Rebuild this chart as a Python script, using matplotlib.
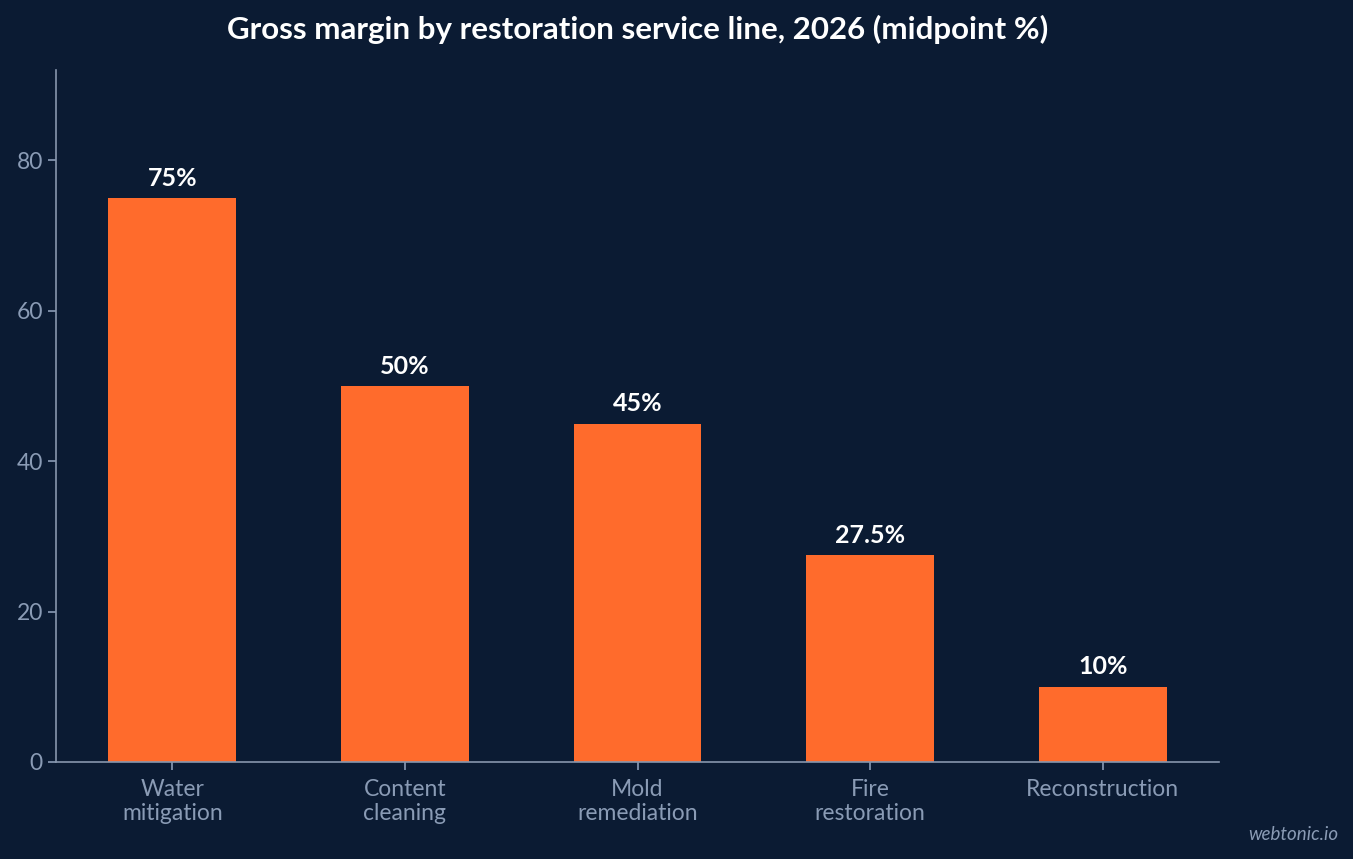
import matplotlib.pyplot as plt
import numpy as np

plt.rcParams["font.family"] = ["Lato", "DejaVu Sans"]

categories = ["Water\nmitigation", "Content\ncleaning", "Mold\nremediation", "Fire\nrestoration", "Reconstruction"]
margins = [75, 50, 45, 27.5, 10]
value_labels = ["75%", "50%", "45%", "27.5%", "10%"]

BG = "#0b1b33"
BAR = "#ff6b2c"
MUTED = "#8a9bb5"
SPINE = "#8796ad"

fig = plt.figure(figsize=(13.53, 8.59), dpi=100, facecolor=BG)
ax = fig.add_axes([56 / 1353, 1 - 762 / 859, (1219 - 56) / 1353, (762 - 70) / 859])
ax.set_facecolor(BG)

x = np.arange(len(categories))
bars = ax.bar(x, margins, width=0.55, color=BAR, zorder=2)

for bar, label in zip(bars, value_labels):
    ax.annotate(
        label,
        (bar.get_x() + bar.get_width() / 2, bar.get_height()),
        xytext=(0, 6),
        textcoords="offset points",
        ha="center",
        va="bottom",
        color="white",
        fontsize=18,
        fontweight="bold",
    )

ax.set_xlim(-0.5, len(categories) - 0.5)
ax.set_ylim(0, 92)
ax.set_yticks([0, 20, 40, 60, 80])
ax.set_xticks(x)
ax.set_xticklabels(categories, linespacing=1.2)
ax.tick_params(colors=MUTED, labelsize=16.5, length=6, width=1.2)
ax.tick_params(axis="x", pad=6)
for side in ["top", "right"]:
    ax.spines[side].set_visible(False)
for side in ["left", "bottom"]:
    ax.spines[side].set_color(SPINE)
    ax.spines[side].set_linewidth(1.2)

ax.set_title(
    "Gross margin by restoration service line, 2026 (midpoint %)",
    color="white",
    fontsize=22.5,
    fontweight="bold",
    pad=22,
)

fig.text(0.989, 0.019, "webtonic.io", color=MUTED, fontsize=13.5, style="italic", ha="right", va="bottom")

fig.savefig("out.png", dpi=100, facecolor=BG)
